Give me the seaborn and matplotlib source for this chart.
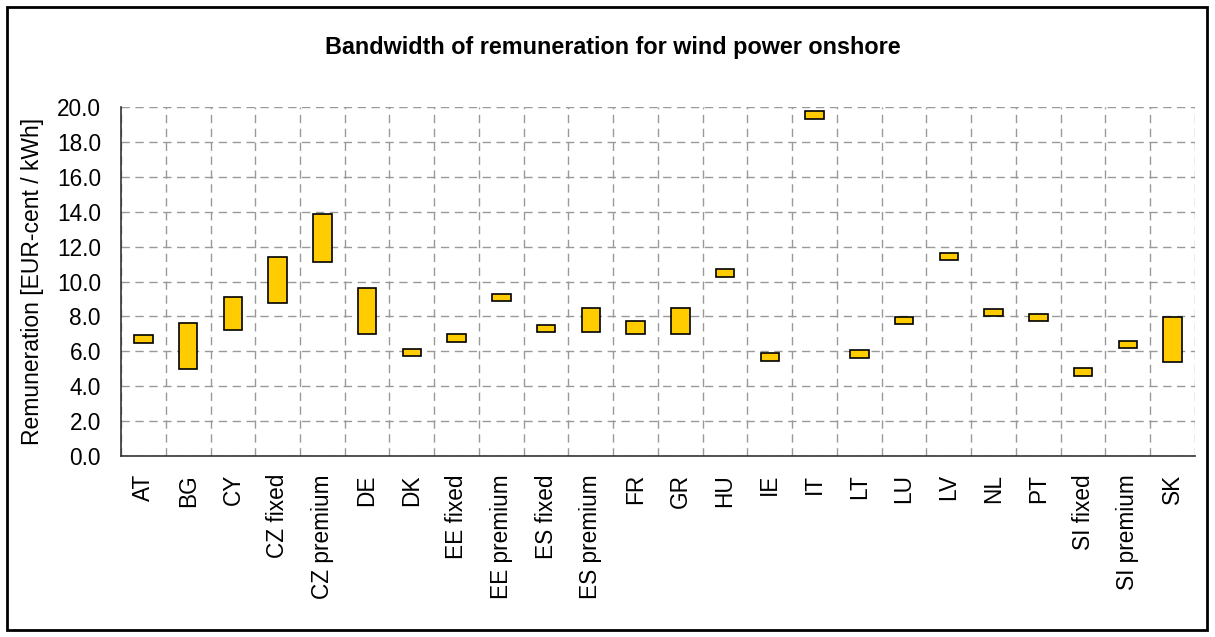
import numpy as np
import pandas as pd
import matplotlib
matplotlib.use("Agg")
import matplotlib.pyplot as plt
import matplotlib.patches as patches
from matplotlib.ticker import MultipleLocator, FixedLocator
import seaborn as sns

# Data (EUR-cent / kWh)
categories = [
    "AT", "BG", "CY", "CZ fixed", "CZ premium", "DE", "DK", "EE fixed",
    "EE premium", "ES fixed", "ES premium", "FR", "GR", "HU", "IE", "IT",
    "LT", "LU", "LV", "NL", "PT", "SI fixed", "SI premium", "SK",
]
low = [6.5, 5.0, 7.23, 8.75, 11.14, 7.02, 5.74, 6.55,
       8.88, 7.08, 7.12, 7.02, 6.97, 10.28, 5.45, 19.33,
       5.63, 7.54, 11.22, 8.02, 7.71, 4.61, 6.20, 5.36]
high = [6.93, 7.62, 9.13, 11.41, 13.88, 9.63, 6.14, 6.97,
        9.30, 7.50, 8.50, 7.71, 8.46, 10.70, 5.88, 19.75,
        6.07, 7.96, 11.66, 8.44, 8.13, 5.03, 6.62, 7.98]

df = pd.DataFrame({"country": categories, "low": low, "high": high})
df["span"] = df["high"] - df["low"]

sns.set_style("white")
plt.rcParams["font.family"] = ["Liberation Sans", "DejaVu Sans"]
plt.rcParams["text.color"] = "black"
plt.rcParams["axes.labelcolor"] = "black"
plt.rcParams["xtick.labelcolor"] = "black"
plt.rcParams["ytick.labelcolor"] = "black"

fig = plt.figure(figsize=(12.15, 6.37), dpi=100)
ax = fig.add_axes([0.0996, 0.2841, 0.8839, 0.5479])

# floating bars: height = span, starting at the low value
sns.barplot(data=df, x="country", y="span", order=categories,
            bottom=df["low"].values, color="#FFCC00", saturation=1,
            width=0.41, edgecolor="black", linewidth=1.2, ax=ax, zorder=3)

ax.set_xlim(-0.5, len(categories) - 0.5)
ax.set_ylim(0, 20)
ax.yaxis.set_major_locator(MultipleLocator(2))
ax.set_yticklabels([f"{v:.1f}" for v in ax.get_yticks()])

# boundaries between categories carry the grid and the tick marks
ax.xaxis.set_minor_locator(FixedLocator(np.arange(-0.5, len(categories), 1.0)))
ax.tick_params(axis="x", which="major", length=0, labelsize=16.3,
               labelrotation=90, pad=13)
ax.tick_params(axis="x", which="minor", length=7, width=1, color="#333333",
               direction="out")
ax.tick_params(axis="y", which="major", length=9, width=1, color="#333333",
               direction="inout", labelsize=16.3, pad=10)

ax.grid(True, axis="y", which="major", linestyle=(0, (6, 4)),
        color="#999999", linewidth=1)
ax.grid(True, axis="x", which="minor", linestyle=(0, (6, 4)),
        color="#999999", linewidth=1)
ax.grid(False, axis="x", which="major")
ax.set_axisbelow(True)

for side in ["top", "right"]:
    ax.spines[side].set_visible(False)
for side in ["left", "bottom"]:
    ax.spines[side].set_color("#333333")
    ax.spines[side].set_linewidth(1.2)

ax.set_xlabel("")
ax.set_ylabel("Remuneration [EUR-cent / kWh]", fontsize=16.5, labelpad=9)

fig.text(0.504, 0.925, "Bandwidth of remuneration for wind power onshore",
         ha="center", va="center", fontsize=16.8, fontweight="bold")

# outer frame around the chart
fig.patches.append(patches.Rectangle((7 / 1215, 7 / 637), 1200 / 1215, 623 / 637,
                                     transform=fig.transFigure, fill=False,
                                     edgecolor="black", linewidth=2))

fig.savefig("out.png", dpi=100)
